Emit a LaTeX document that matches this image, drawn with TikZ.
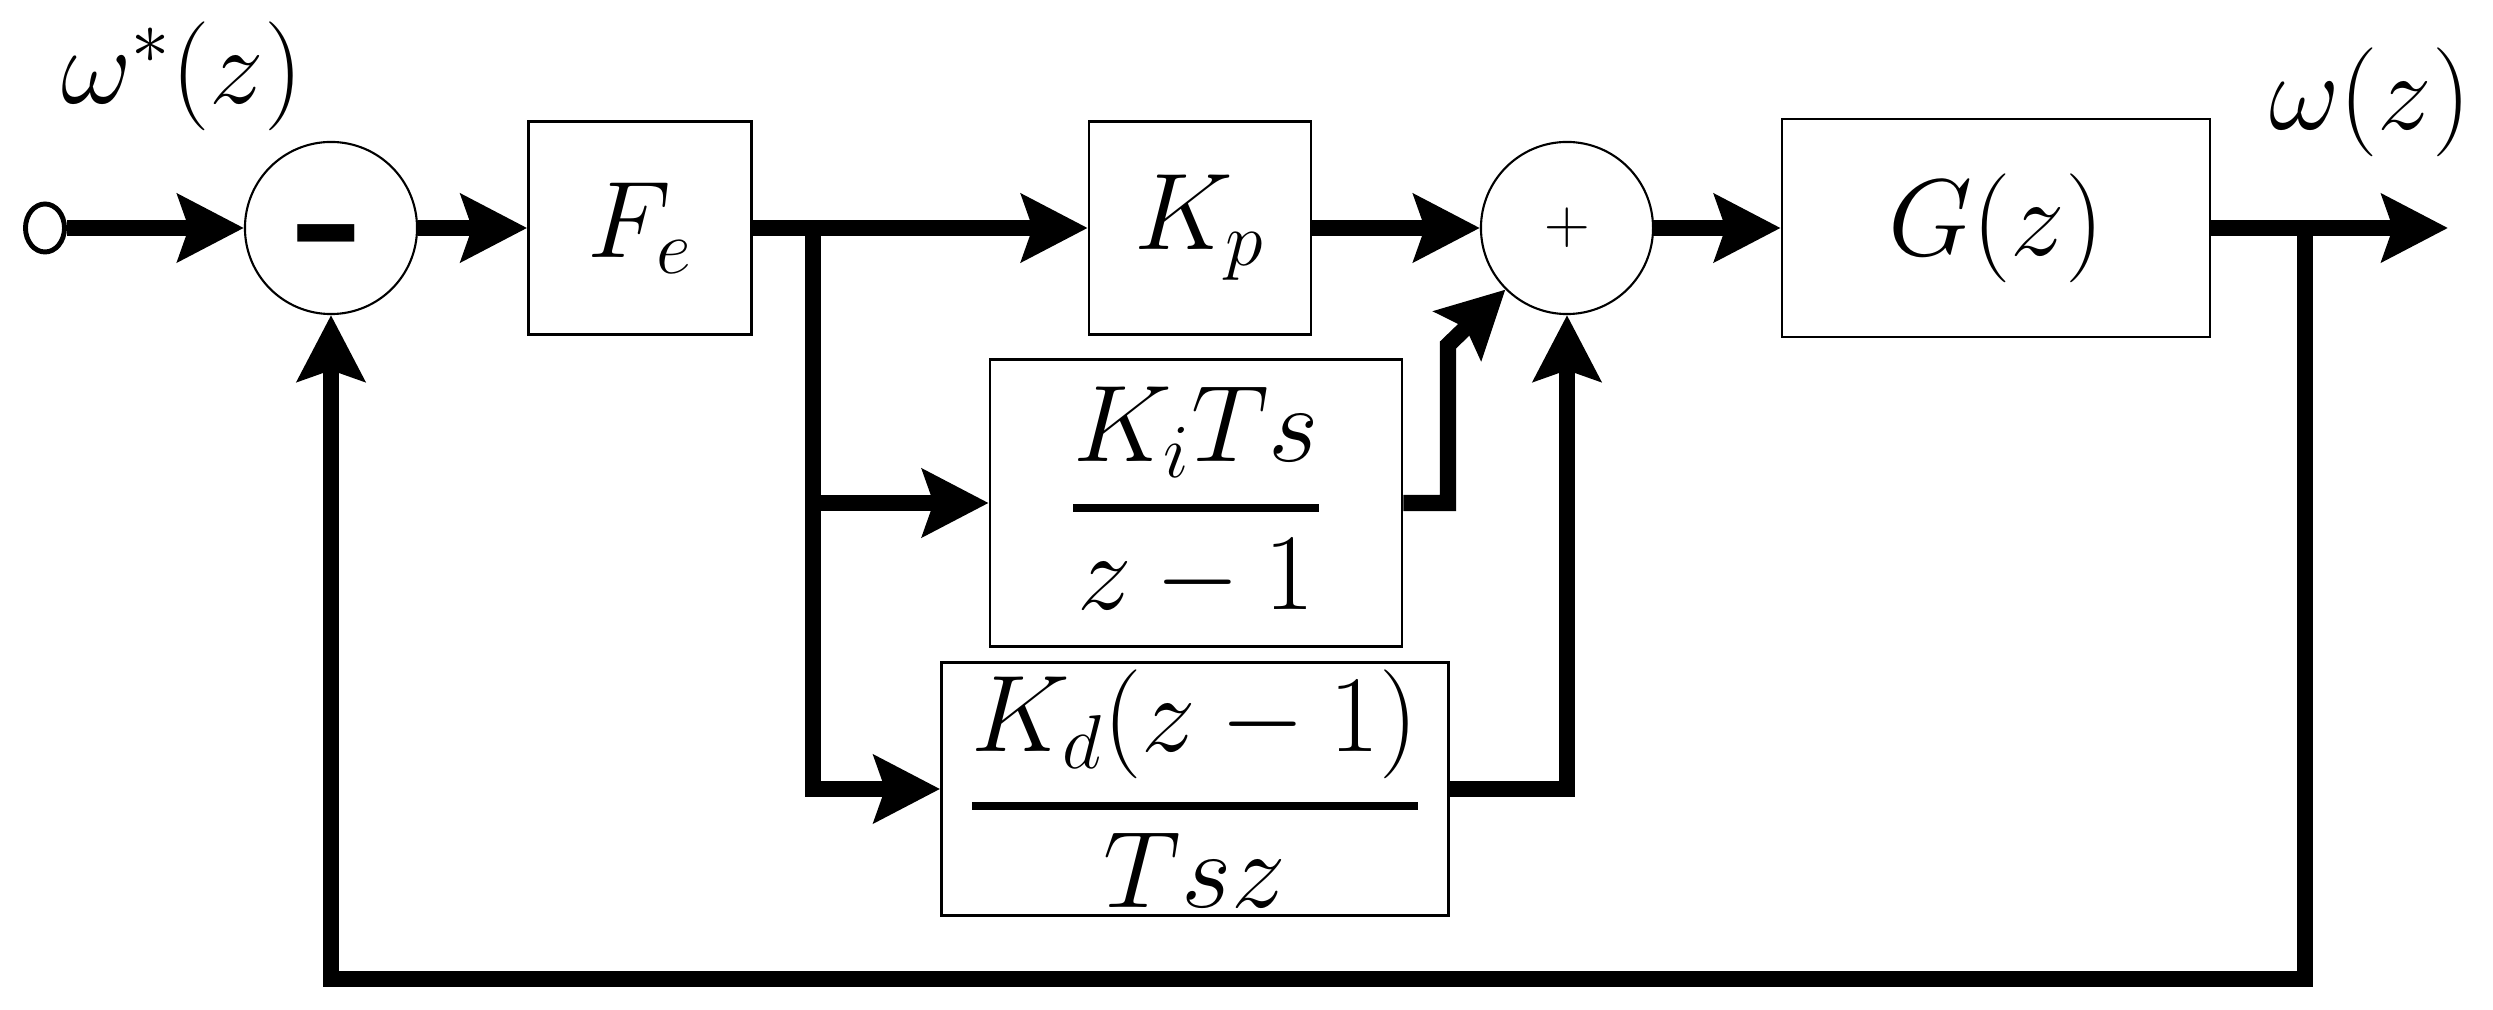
\documentclass[tikz,border=0pt]{standalone}
\usepackage{fix-cm}
\usetikzlibrary{arrows.meta,shapes.geometric}
\begin{document}
\begin{tikzpicture}[x = .01cm, y = -.01cm,
    sig/.style = {line width = 4.6pt, -{Stealth[length = 6.6mm, width = 6.7mm, inset = 1.1mm]}},
    txt/.style = {font = \fontsize{31}{37}\selectfont},
    blk/.style = {txt, draw, line width = .7pt, inner sep = 0},
    sum/.style = {draw, circle, line width = .6pt, minimum size = 1.72cm, inner sep = 0}]
  \useasboundingbox (0,0) rectangle (2493,1010);
  \node [draw, ellipse, line width = 1.4pt, minimum width = .39cm, minimum height = .48cm, inner sep = 0] (in) at (45,228) {};
  \node [sum, font = \fontsize{54}{60}\selectfont\bfseries] (sub) at (331,228) {\smash{\raisebox{-.25em}{-}}};
  \node [blk, minimum width = 2.23cm, minimum height = 2.13cm] (fe) at (640,228) {$F_e$};
  \node [blk, minimum width = 2.22cm, minimum height = 2.13cm] (kp) at (1200,228) {$K_p$};
  \node [sum, font = \fontsize{18}{20}\selectfont] (add) at (1567,228) {$+$};
  \node [blk, minimum width = 4.28cm, minimum height = 2.18cm] (g) at (1996,228) {$G(z)$};
  \node [blk, minimum width = 4.12cm, minimum height = 2.87cm] (ki) at (1196,503) {$\displaystyle{K_iTs \above 2.2pt z-1}$};
  \node [blk, minimum width = 5.07cm, minimum height = 2.53cm] (kd) at (1195,789) {$\displaystyle{K_d(z-1) \above 2.2pt Tsz}$};
  \node [txt] (wref) at (182,76) {$\omega^*(z)$};
  \node [txt] (wout) at (2370,102) {$\omega(z)$};
  \coordinate (br) at (813,228);
  \coordinate (fb) at (2305,228);
  \coordinate (out) at (2448,228);
  \coordinate (fbl) at (331,979);
  \coordinate (kic) at (1448,345);
  \draw [sig] (in) -- (sub);
  \draw [sig] (sub) -- (fe);
  \draw [sig] (fe) -- (kp);
  \draw [sig] (br) |- (ki);
  \draw [sig] (br) |- (kd);
  \draw [sig] (kp) -- (add);
  \draw [sig] (add) -- (g);
  \draw [sig] (g) -- (out);
  \draw [sig] (fb) |- (fbl) -- (sub);
  \draw [sig] (ki) -| (kic) -- (add.south west);
  \draw [sig] (kd) -| (add);
\end{tikzpicture}
\end{document}
